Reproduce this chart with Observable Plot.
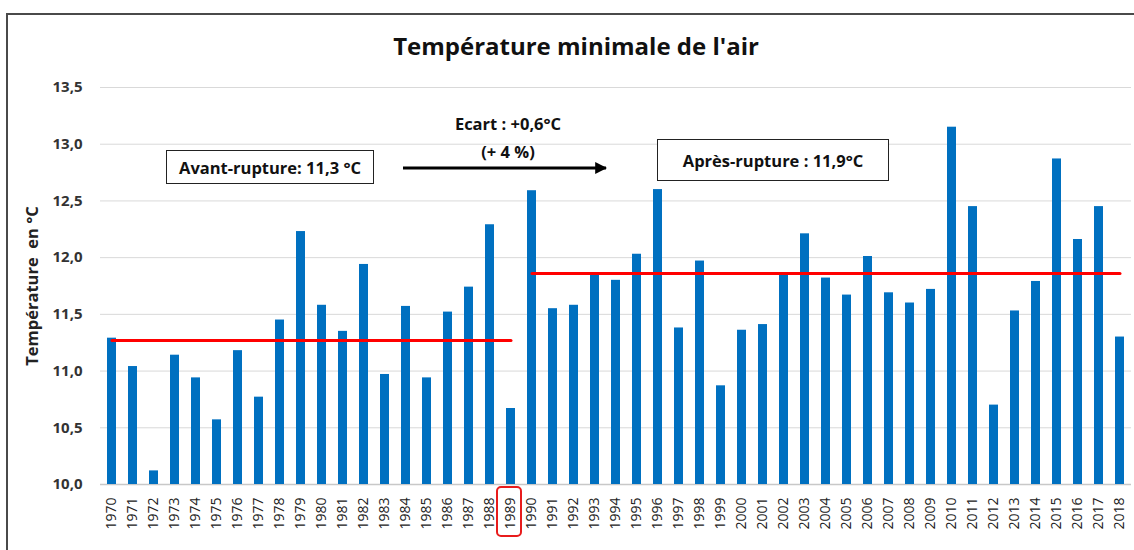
<!DOCTYPE html>
<html>
<head>
<meta charset="utf-8">
<script src="https://cdn.jsdelivr.net/npm/d3@7"></script>
<script src="https://cdn.jsdelivr.net/npm/@observablehq/plot@0.6"></script>
<style>
  html, body { margin: 0; padding: 0; background: #fff; overflow: hidden; }
  #wrap { position: relative; width: 1134px; height: 550px; overflow: hidden; font-family: "Open Sans", Lato, sans-serif; }
  #frame { position: absolute; left: 6px; top: 13px; width: 1300px; height: 700px; border-top: 2px solid #4a4a4a; border-left: 2px solid #4a4a4a; }
  #chart { position: absolute; left: 0; top: 0; }
  .ov { position: absolute; color: #111; font-weight: bold; white-space: nowrap; }
  #title { left: 0; width: 1152px; top: 29px; text-align: center; font-size: 24px; }
  .box { border: 1.5px solid #222; box-sizing: border-box; font-size: 16.5px; display: flex; align-items: center; justify-content: center; background: #fff; }
  #avant { left: 166px; top: 150px; width: 208px; height: 34px; }
  #apres { left: 657px; top: 139px; width: 232px; height: 42px; }
  #ecart1 { left: 408px; width: 200px; top: 112px; text-align: center; font-size: 16.5px; }
  #ecart2 { left: 408px; width: 200px; top: 140px; text-align: center; font-size: 16.5px; }
  #hl { left: 496px; top: 486px; width: 26px; height: 51px; border: 2px solid #e81c1c; border-radius: 5px; box-sizing: border-box; }
  #arrow { position: absolute; left: 0; top: 0; }
</style>
</head>
<body>
<div id="wrap">
  <div id="chart"></div>
  <div id="frame"></div>
  <div id="title" class="ov">Température minimale de l'air</div>
  <div id="avant" class="ov box">Avant-rupture: 11,3 °C</div>
  <div id="apres" class="ov box">Après-rupture : 11,9°C</div>
  <div id="ecart1" class="ov">Ecart : +0,6°C</div>
  <div id="ecart2" class="ov">(+ 4 %)</div>
  <div id="hl" class="ov"></div>
  <svg id="arrow" width="1134" height="550">
    <defs>
      <marker id="ah" viewBox="0 0 10 10" refX="9" refY="5" markerWidth="4" markerHeight="4" orient="auto">
        <path d="M0,0 L10,5 L0,10 z" fill="#000"/>
      </marker>
    </defs>
    <line x1="403" y1="168" x2="606" y2="168" stroke="#000" stroke-width="3" marker-end="url(#ah)"/>
  </svg>
</div>
<script>
const years = ["1970","1971","1972","1973","1974","1975","1976","1977","1978","1979",
  "1980","1981","1982","1983","1984","1985","1986","1987","1988","1989",
  "1990","1991","1992","1993","1994","1995","1996","1997","1998","1999",
  "2000","2001","2002","2003","2004","2005","2006","2007","2008","2009",
  "2010","2011","2012","2013","2014","2015","2016","2017","2018"];
const tmin = [11.29,11.04,10.12,11.14,10.94,10.57,11.18,10.77,11.45,12.23,
  11.58,11.35,11.94,10.97,11.57,10.94,11.52,11.74,12.29,10.67,
  12.59,11.55,11.58,11.85,11.80,12.03,12.60,11.38,11.97,10.87,
  11.36,11.41,11.85,12.21,11.82,11.67,12.01,11.69,11.60,11.72,
  13.15,12.45,10.70,11.53,11.79,12.87,12.16,12.45,11.30];
const periods = ["Avant-rupture", "Après-rupture"];
const periodStart = ["1970", "1990"];
const periodEnd = ["1989", "2018"];
const periodMean = [11.27, 11.86];
const yTicks = [10, 10.5, 11, 11.5, 12, 12.5, 13, 13.5];
const yLabel = "Température\u00a0\u00a0en °C";

const bars = years.map((y, i) => ({year: y, value: tmin[i]}));
const meanPts = periods.flatMap((p, i) => [
  {period: p, year: periodStart[i], value: periodMean[i]},
  {period: p, year: periodEnd[i], value: periodMean[i]}
]);

const fmt = d => d.toFixed(1).replace(".", ",");

const chart = Plot.plot({
  width: 1134,
  height: 550,
  marginLeft: 100,
  marginRight: 3,
  marginTop: 87,
  marginBottom: 66,
  style: {fontFamily: "'Open Sans', Lato, sans-serif", background: "transparent", color: "#222"},
  x: {type: "band", domain: years, paddingInner: 0.57, paddingOuter: 0.28},
  y: {domain: [10, 13.5]},
  marks: [
    Plot.gridY(yTicks, {stroke: "#d9d9d9", strokeOpacity: 1}),
    Plot.ruleY([10], {stroke: "#c8c8c8", strokeWidth: 1.5}),
    Plot.barY(bars, {x: "year", y1: 10, y2: "value", fill: "#0070c0"}),
    Plot.line(meanPts, {x: "year", y: "value", z: "period", stroke: "#ff0000", strokeWidth: 3}),
    Plot.axisY(yTicks, {tickSize: 0, tickPadding: 18, tickFormat: fmt, fontWeight: "bold", fontSize: 15, label: null, fill: "#333"}),
    Plot.axisX({tickRotate: -90, tickSize: 0, tickPadding: 13, fontSize: 14, label: null, fill: "#222"}),
    Plot.text([yLabel], {frameAnchor: "left", textAnchor: "middle", rotate: -90, dx: -68, fontWeight: "bold", fontSize: 16.5, fill: "#222"})
  ]
});
document.getElementById("chart").appendChild(chart);
</script>
</body>
</html>
